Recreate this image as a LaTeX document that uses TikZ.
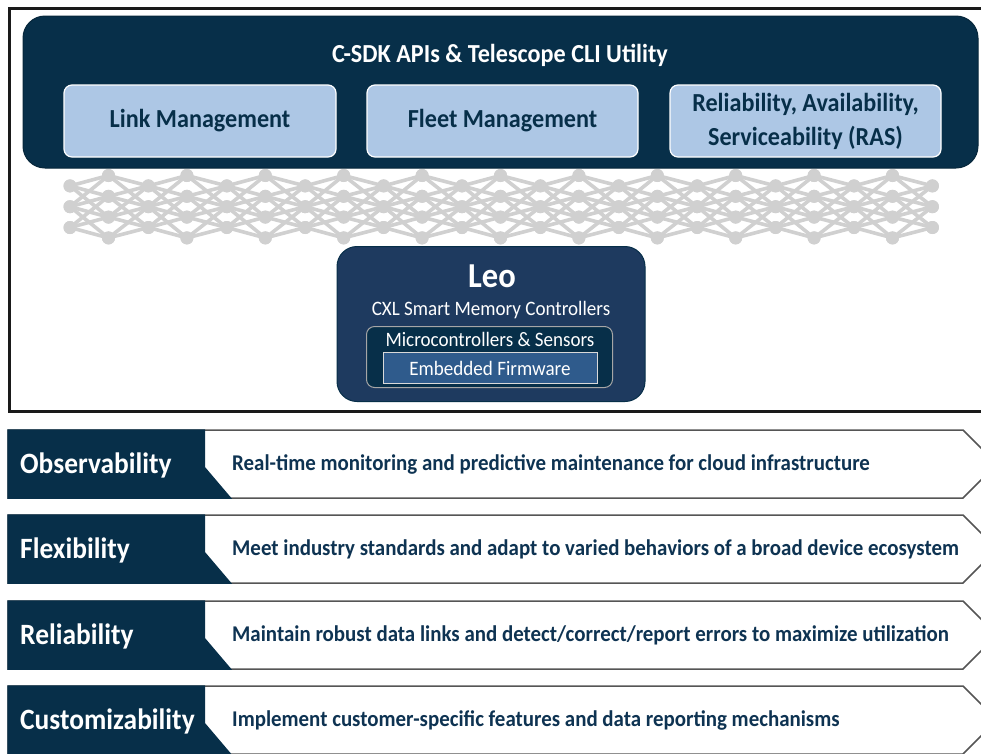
\documentclass[tikz,border=0pt]{standalone}
\usepackage{fontspec}
\setmainfont{Carlito}[FakeStretch=0.93]
\definecolor{navy}{RGB}{7,47,73}
\definecolor{lightblue}{RGB}{173,199,229}
\definecolor{leofill}{RGB}{30,58,95}
\definecolor{fwfill}{RGB}{47,91,140}
\definecolor{meshgray}{RGB}{208,208,208}
\definecolor{desctext}{RGB}{14,51,82}
\definecolor{rowborder}{RGB}{85,85,85}
\definecolor{framecol}{RGB}{26,26,26}
\tikzset{
  topbox/.style={draw=navy!80!black, fill=navy, rounded corners=22pt, line width=1pt},
  subbox/.style={draw=white, fill=lightblue, rounded corners=8pt, line width=1.2pt, text=navy, font=\bfseries\fontsize{26}{34}\selectfont, align=center},
  meshdot/.style={circle, fill=meshgray, inner sep=0pt, minimum size=13pt},
  meshline/.style={draw=meshgray, line width=3.6pt},
  rowlabel/.style={anchor=west, text=white, font=\bfseries\fontsize{29.5}{32}\selectfont, inner sep=0pt},
  rowdesc/.style={anchor=west, text=desctext, font=\bfseries\fontsize{22.5}{25}\selectfont, inner sep=0pt},
  plain/.style={inner sep=0pt, text=white}
}
\begin{document}
\begin{tikzpicture}[x=1pt,y=-1pt]
\useasboundingbox (0,0) rectangle (981,753);
\clip (0,0) rectangle (981,753);
\fill[white] (0,0) rectangle (981,753);
% outer frame
\draw[framecol, line width=3pt] (9,8) rectangle (990,411);
% top box
\node[topbox, minimum width=955pt, minimum height=152pt] (top) at (500.5,92) {};
\node[plain, font=\bfseries\fontsize{26}{29}\selectfont] (title) at (500,55) {C-SDK APIs \& Telescope CLI Utility};
\node[subbox, minimum width=272pt, minimum height=72pt] (link) at (200,121) {Link Management};
\node[subbox, minimum width=271pt, minimum height=72pt] (fleet) at (502.5,121) {Fleet Management};
\node[subbox, minimum width=271pt, minimum height=72pt] (ras) at (805.5,121) {Reliability, Availability,\\Serviceability (RAS)};
% mesh
\foreach \i in {0,...,11}{
  \foreach \k in {1,3,5}{
    \node[meshdot] (A-\i-\k) at ({70+78.4*\i},{175.5+10.4*\k}) {};
  }
}
\foreach \j in {0,...,10}{
  \foreach \k in {0,2,4,6}{
    \node[meshdot] (B-\j-\k) at ({108.5+78.4*\j},{175.5+10.4*\k}) {};
  }
}
\foreach \i in {0,...,11}{
  \foreach \k in {1,3,5}{
    \foreach \dj in {-1,0}{
      \foreach \dk in {-3,-1,1,3}{
        \pgfmathtruncatemacro\jj{\i+\dj}
        \pgfmathtruncatemacro\kk{\k+\dk}
        \ifnum\jj>-1 \ifnum\jj<11 \ifnum\kk>-1 \ifnum\kk<7
          \draw[meshline] (A-\i-\k.center) -- (B-\jj-\kk.center);
        \fi\fi\fi\fi
      }
    }
  }
}
\foreach \i in {0,...,11}{\foreach \k in {1,3,5}{\fill[meshgray] (A-\i-\k) circle (6.5pt);}}
\foreach \j in {0,...,10}{\foreach \k in {0,2,4,6}{\fill[meshgray] (B-\j-\k) circle (6.5pt);}}
% Leo box
\node[draw=navy, fill=leofill, rounded corners=20pt, line width=1pt, minimum width=308pt, minimum height=155pt] (leo) at (491,324) {};
\node[plain, font=\bfseries\fontsize{35}{37}\selectfont] (leot) at (492,276) {Leo};
\node[plain, font=\fontsize{20.5}{23}\selectfont] (cxl) at (491,310) {CXL Smart Memory Controllers};
\node[draw=gray!70, fill=navy, rounded corners=8pt, line width=1pt, minimum width=246pt, minimum height=61pt] (micro) at (489.5,357) {};
\node[plain, font=\fontsize{20.5}{23}\selectfont] (microt) at (490,339) {Microcontrollers \& Sensors};
\node[draw=gray!30, fill=fwfill, line width=1pt, minimum width=214pt, minimum height=31pt] (fw) at (490,367.5) {};
\node[plain, font=\fontsize{20.5}{23}\selectfont] (fwt) at (490,368) {Embedded Firmware};
% rows
\foreach \T/\lab/\desc [count=\n] in {
  430/Observability/{Real-time monitoring and predictive maintenance for cloud infrastructure},
  515/Flexibility/{Meet industry standards and adapt to varied behaviors of a broad device ecosystem},
  601/Reliability/{Maintain robust data links and detect/correct/report errors to maximize utilization},
  686/Customizability/{Implement customer-specific features and data reporting mechanisms}}{
  \draw[rowborder, line width=1.5pt, fill=white] (8,\T) -- (963,\T) -- (997,\T+34) -- (963,\T+68) -- (8,\T+68) -- cycle;
  \fill[navy] (7.25,\T-0.75) -- (205,\T-0.75) -- (205,\T+37) -- (232,\T+68.75) -- (7.25,\T+68.75) -- cycle;
  \node[rowlabel] (lab\n) at (20,\T+35) {\lab};
  \node[rowdesc] (desc\n) at (232,\T+34) {\desc};
}
\end{tikzpicture}
\end{document}
